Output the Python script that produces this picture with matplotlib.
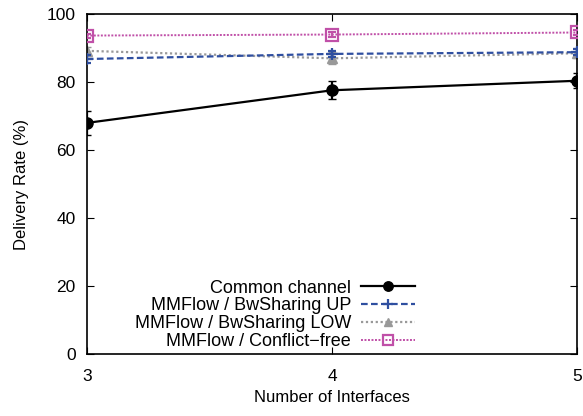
import matplotlib
matplotlib.use('Agg')
import matplotlib.pyplot as plt
from matplotlib.lines import Line2D

plt.rcParams['font.family'] = ['Liberation Sans', 'DejaVu Sans']

interfaces = [3, 4, 5]
common = [68.0, 77.6, 80.4]
common_err = [3.5, 2.6, 2.2]
bw_up = [86.8, 88.3, 88.8]
bw_up_err = [1.2, 1.0, 0.8]
bw_low = [89.2, 87.0, 88.5]
bw_low_err = [1.2, 1.8, 1.5]
conflict_free = [93.7, 94.0, 94.6]
conflict_free_err = [0.6, 0.6, 0.6]

fig = plt.figure(figsize=(5.83, 4.16), dpi=100)
ax = fig.add_axes([0.149, 0.149, 0.841, 0.817])

styles = [
    dict(color='black', lw=1.6, ls='-', marker='o', ms=8),
    dict(color='#2f4fa0', lw=1.6, ls=(0, (3, 1.5)), marker='+', ms=9, mew=1.6),
    dict(color='#999999', lw=1.6, ls=(0, (1, 1.2)), marker='^', ms=7),
    dict(color='#c050a8', lw=1.4, ls=(0, (1, 0.8)), marker='s', ms=9,
         mfc='none', mew=1.6),
]
series = [
    (common, common_err, 'Common channel', 4),
    (bw_up, bw_up_err, 'MMFlow / BwSharing UP', 3),
    (bw_low, bw_low_err, 'MMFlow / BwSharing LOW', 2),
    (conflict_free, conflict_free_err, 'MMFlow / Conflict\u2212free', 3),
]

handles = []
for (vals, err, label, z), st in zip(series, styles):
    ax.errorbar(interfaces, vals, yerr=err, capsize=3, zorder=z, **st)
    h = dict(st)
    if 'ms' in h:
        h['ms'] = h['ms'] * 0.85
    handles.append(Line2D([], [], label=label, **h))

ax.set_xlim(3, 5)
ax.set_ylim(0, 100)
ax.set_xticks(interfaces)
ax.set_yticks([0, 20, 40, 60, 80, 100])
ax.tick_params(direction='in', top=True, right=True, labelsize=12.5, length=5,
               pad=8)
ax.tick_params(axis='x', pad=11)
ax.set_xlabel('Number of Interfaces', fontsize=12, labelpad=4)
ax.set_ylabel('Delivery Rate (%)', fontsize=12, labelpad=13)
for s in ax.spines.values():
    s.set_linewidth(1.2)

ax.legend(handles=handles, loc='lower right', bbox_to_anchor=(0.712, 0.158),
          bbox_transform=fig.transFigure, frameon=False, markerfirst=False,
          fontsize=13, handlelength=3.0, labelspacing=0.05, handletextpad=0.55,
          borderpad=0, borderaxespad=0)

fig.savefig('out.png', dpi=100)
